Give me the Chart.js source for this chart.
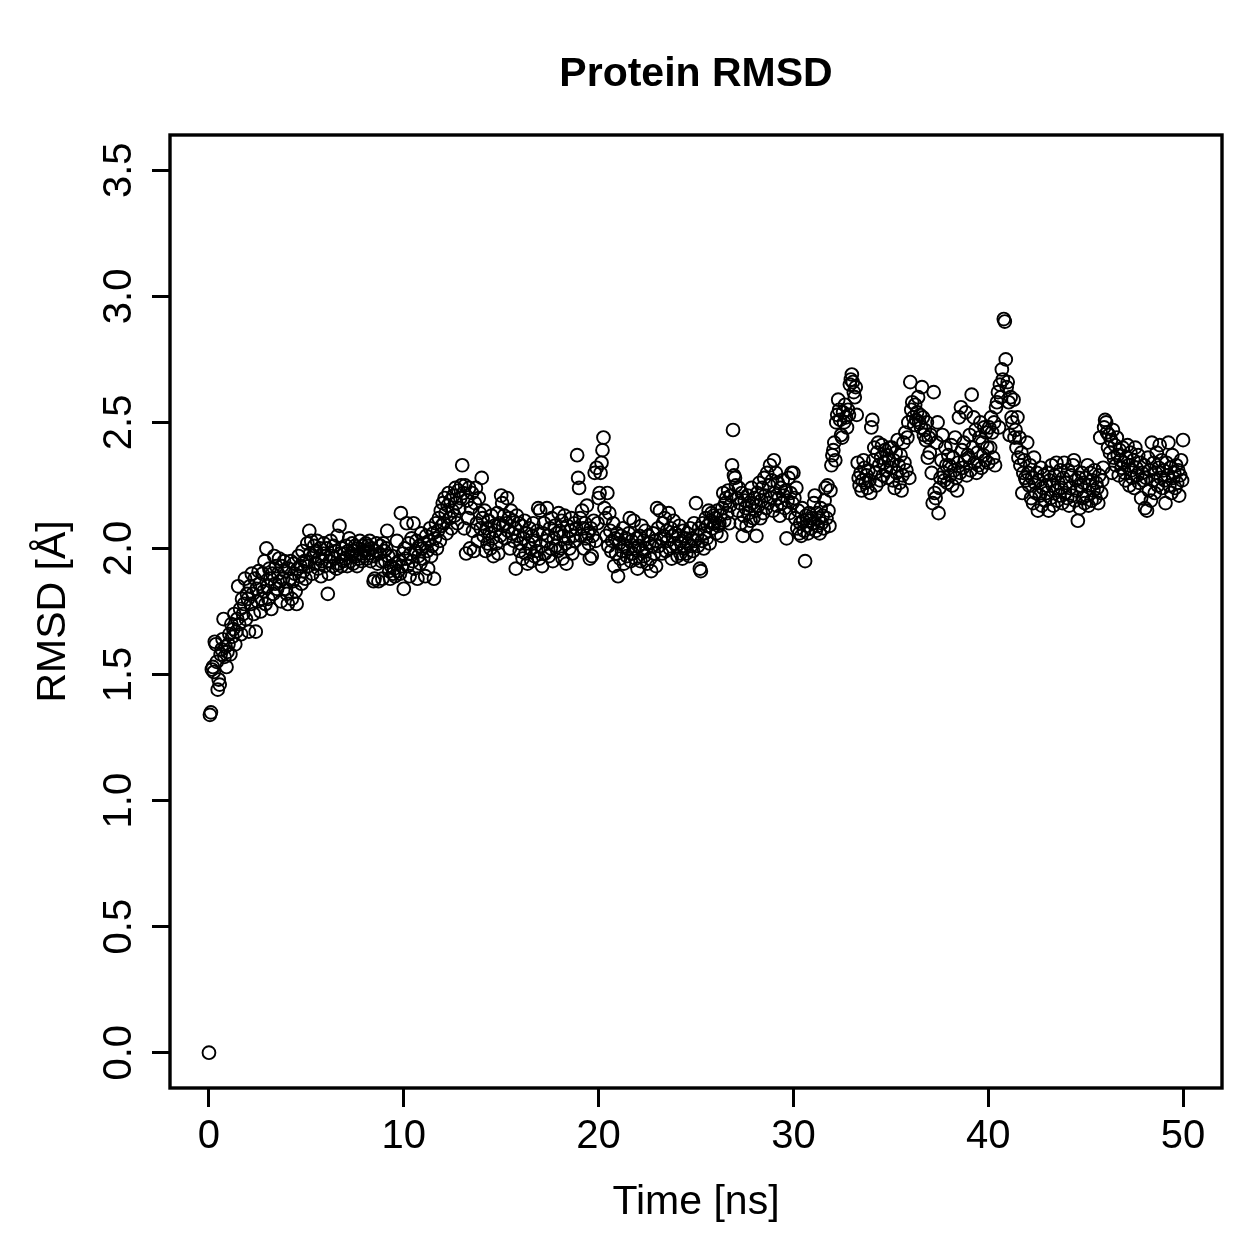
<!DOCTYPE html>
<html>
<head>
<meta charset="utf-8">
<script src="https://cdn.jsdelivr.net/npm/chart.js@4.4.1/dist/chart.umd.min.js"></script>
<style>
  html, body { margin: 0; padding: 0; background: #fff; }
  canvas { display: block; }
</style>
</head>
<body>
<canvas id="rmsd" width="1259" height="1259"></canvas>
<script>
// RMSD values (Angstrom), one frame every 0.05 ns, one row per ns
const frameStepNs = 0.05;
const rmsd = [
  0.00,1.34,1.35,1.52,1.53,1.51,1.63,1.62,1.55,1.44,1.48,1.46,1.58,1.60,1.64,1.72,1.57,1.61,1.53,1.59,
  1.62,1.66,1.58,1.70,1.65,1.68,1.74,1.62,1.67,1.72,1.85,1.70,1.76,1.66,1.80,1.74,1.78,1.88,1.72,1.82,
  1.80,1.67,1.85,1.78,1.90,1.82,1.74,1.88,1.67,1.84,1.79,1.91,1.86,1.75,1.80,1.90,1.83,1.95,1.78,2.00,
  1.85,1.80,1.92,1.88,1.76,1.90,1.82,1.97,1.86,1.93,1.84,1.90,1.96,1.87,1.79,1.93,1.88,1.95,1.91,1.84,
  1.82,1.78,1.92,1.88,1.95,1.80,1.87,1.94,1.90,1.83,1.78,1.92,1.97,1.89,1.93,1.86,1.99,1.91,1.95,1.88,
  1.95,2.02,1.93,2.07,1.98,2.03,1.90,1.97,2.01,1.94,1.99,2.03,1.92,1.96,2.00,1.89,1.95,1.98,2.02,1.93,
  1.97,2.00,1.82,1.90,1.95,2.03,1.97,1.93,2.01,1.96,1.99,1.92,2.05,1.94,2.09,1.98,1.93,2.00,1.95,1.98,
  1.96,2.01,1.93,1.99,2.04,1.95,1.98,2.02,1.94,1.99,2.01,1.97,1.93,2.00,1.96,2.03,1.98,1.95,2.01,1.97,
  1.99,2.02,1.96,2.01,1.98,2.03,1.95,2.00,1.97,1.87,1.88,1.99,2.02,1.94,1.87,1.98,2.01,1.95,1.88,2.02,
  1.99,1.95,2.00,2.07,1.97,1.91,1.88,1.93,1.97,1.90,1.92,1.89,1.94,2.03,1.91,1.95,1.90,2.14,1.93,1.98,
  1.84,2.00,1.96,2.10,1.93,2.02,1.89,1.98,2.04,1.95,2.10,1.92,1.99,2.03,1.88,1.97,2.01,1.94,2.06,2.00,
  1.96,2.02,1.89,2.05,1.99,1.92,2.03,2.08,1.97,2.01,2.06,1.88,2.04,2.10,2.00,2.07,2.12,2.03,2.15,2.09,
  2.18,2.10,2.20,2.14,2.06,2.17,2.22,2.12,2.19,2.08,2.15,2.21,2.13,2.24,2.18,2.10,2.23,2.16,2.20,2.25,
  2.33,2.22,2.08,2.25,1.98,2.19,2.12,2.24,2.00,2.16,2.22,2.07,1.99,2.18,2.24,2.10,2.03,2.20,2.14,2.08,
  2.28,2.12,2.05,2.15,1.99,2.08,2.02,2.11,2.06,2.00,2.13,2.04,1.97,2.09,2.07,2.02,2.14,1.98,2.10,2.05,
  2.21,2.18,2.09,2.13,2.04,2.10,2.20,2.07,2.12,2.00,2.15,2.06,2.11,2.03,2.08,1.92,2.13,2.05,2.10,1.99,
  2.02,2.09,1.96,2.04,2.11,1.98,2.06,1.94,2.02,2.08,2.00,1.95,2.05,2.10,1.97,2.03,1.99,2.07,2.16,1.96,
  2.15,2.01,1.93,2.06,2.10,1.98,2.03,2.16,2.05,1.97,2.08,2.00,2.12,1.95,2.04,2.09,2.01,2.06,1.99,2.14,
  2.07,2.00,2.11,1.96,2.05,2.13,2.02,1.94,2.09,2.04,2.00,2.07,2.12,1.98,2.05,2.10,2.03,2.08,2.37,2.28,
  2.24,2.12,2.05,2.15,2.08,2.00,2.10,2.04,2.17,2.06,2.02,1.96,2.08,1.97,2.05,2.11,2.30,2.03,2.32,2.10,
  2.20,2.22,2.30,2.34,2.39,2.44,2.16,2.12,2.05,2.22,2.01,2.14,2.07,1.99,2.03,2.10,1.93,2.04,1.98,2.06,
  1.89,2.02,1.96,2.05,1.99,2.08,1.94,2.01,2.04,1.97,2.00,2.06,2.12,1.95,2.03,1.98,2.11,2.00,1.96,2.04,
  1.92,2.01,2.05,1.95,2.09,1.99,2.03,1.97,2.07,2.00,1.94,2.05,2.02,1.96,1.91,2.01,2.06,1.98,2.03,1.93,
  2.16,2.08,2.01,2.15,2.04,1.98,2.10,2.05,2.12,1.99,2.07,2.03,2.14,2.00,2.08,1.96,2.05,2.11,2.02,2.06,
  2.01,1.97,2.05,2.09,1.98,2.03,1.96,2.07,2.00,2.04,1.98,2.06,2.02,1.97,2.08,2.01,2.04,1.99,2.10,2.03,
  2.18,2.05,2.01,2.08,1.92,1.91,2.03,2.10,2.00,2.06,2.12,2.04,2.09,2.15,2.02,2.11,2.14,2.08,2.13,2.10,
  2.12,2.06,2.15,2.09,2.10,2.13,2.05,2.16,2.22,2.11,2.18,2.20,2.14,2.23,2.10,2.17,2.21,2.33,2.47,2.29,
  2.28,2.25,2.20,2.15,2.24,2.18,2.10,2.22,2.05,2.13,2.19,2.16,2.09,2.21,2.14,2.17,2.11,2.24,2.18,2.12,
  2.20,2.15,2.05,2.22,2.17,2.26,2.12,2.19,2.24,2.14,2.28,2.21,2.16,2.30,2.18,2.25,2.33,2.20,2.27,2.15,
  2.35,2.22,2.30,2.17,2.26,2.20,2.13,2.24,2.18,2.27,2.21,2.16,2.23,2.04,2.19,2.28,2.14,2.22,2.30,2.18,
  2.30,2.20,2.12,2.24,2.08,2.15,2.06,2.10,2.05,2.16,2.11,2.07,1.95,2.13,2.09,2.06,2.14,2.11,2.08,2.12,
  2.10,2.18,2.21,2.07,2.14,2.09,2.12,2.06,2.16,2.10,2.13,2.08,2.19,2.24,2.12,2.25,2.15,2.09,2.23,2.33,
  2.37,2.39,2.42,2.35,2.50,2.53,2.59,2.55,2.51,2.45,2.44,2.54,2.50,2.57,2.52,2.48,2.55,2.53,2.65,2.67,
  2.69,2.66,2.62,2.60,2.64,2.53,2.34,2.28,2.25,2.30,2.23,2.27,2.35,2.32,2.26,2.29,2.24,2.31,2.27,2.22,
  2.48,2.51,2.35,2.40,2.30,2.25,2.38,2.42,2.33,2.27,2.36,2.41,2.29,2.34,2.39,2.31,2.37,2.28,2.35,2.40,
  2.32,2.40,2.27,2.35,2.24,2.38,2.30,2.43,2.33,2.26,2.37,2.23,2.29,2.42,2.34,2.46,2.31,2.44,2.50,2.28,
  2.66,2.55,2.58,2.52,2.49,2.57,2.51,2.54,2.60,2.50,2.53,2.48,2.64,2.52,2.45,2.47,2.43,2.50,2.36,2.44,
  2.38,2.45,2.30,2.18,2.62,2.22,2.20,2.42,2.50,2.14,2.24,2.28,2.35,2.45,2.30,2.27,2.40,2.33,2.26,2.37,
  2.33,2.29,2.41,2.25,2.36,2.31,2.44,2.28,2.23,2.34,2.52,2.30,2.56,2.39,2.32,2.42,2.35,2.54,2.29,2.37,
  2.36,2.45,2.31,2.61,2.40,2.52,2.34,2.47,2.30,2.38,2.33,2.44,2.50,2.32,2.42,2.37,2.48,2.35,2.46,2.40,
  2.34,2.48,2.40,2.52,2.46,2.36,2.50,2.33,2.56,2.58,2.62,2.48,2.65,2.60,2.71,2.67,2.91,2.90,2.75,2.64,
  2.66,2.58,2.45,2.60,2.52,2.50,2.59,2.44,2.47,2.40,2.52,2.36,2.44,2.33,2.38,2.22,2.30,2.35,2.28,2.27,
  2.42,2.30,2.25,2.33,2.20,2.28,2.18,2.36,2.26,2.22,2.30,2.15,2.27,2.21,2.32,2.17,2.24,2.29,2.19,2.25,
  2.22,2.30,2.15,2.27,2.20,2.33,2.25,2.17,2.29,2.23,2.34,2.19,2.26,2.21,2.31,2.24,2.18,2.28,2.34,2.22,
  2.26,2.20,2.31,2.17,2.24,2.29,2.21,2.33,2.35,2.19,2.27,2.23,2.11,2.28,2.16,2.25,2.30,2.20,2.26,2.18,
  2.28,2.21,2.33,2.17,2.25,2.30,2.19,2.27,2.23,2.31,2.20,2.26,2.24,2.18,2.29,2.44,2.22,2.27,2.32,2.48,
  2.51,2.50,2.46,2.40,2.45,2.38,2.43,2.30,2.47,2.36,2.41,2.33,2.44,2.37,2.29,2.39,2.35,2.32,2.40,2.34,
  2.30,2.27,2.36,2.41,2.33,2.25,2.38,2.31,2.28,2.35,2.24,2.40,2.32,2.29,2.37,2.26,2.34,2.20,2.30,2.27,
  2.33,2.16,2.28,2.15,2.36,2.23,2.31,2.19,2.42,2.27,2.34,2.22,2.30,2.38,2.25,2.32,2.41,2.28,2.35,2.24,
  2.31,2.27,2.18,2.34,2.29,2.42,2.25,2.32,2.22,2.37,2.28,2.30,2.24,2.33,2.26,2.31,2.21,2.29,2.35,2.27,
  2.43
];
const xTicks = [0, 10, 20, 30, 40, 50];
const yTicks = [0.0, 0.5, 1.0, 1.5, 2.0, 2.5, 3.0, 3.5];

const FONT = '"Liberation Sans", Arial, Helvetica, sans-serif';
const points = rmsd.map((v, i) => ({ x: i * frameStepNs, y: v }));

// R-style frame, title, axis titles and rotated y labels
const rDecor = {
  id: 'rDecor',
  afterDraw(chart) {
    const ctx = chart.ctx;
    const a = chart.chartArea;
    const ys = chart.scales.y;
    ctx.save();
    ctx.strokeStyle = '#000';
    ctx.lineWidth = 3.4;
    ctx.strokeRect(a.left, a.top, a.right - a.left, a.bottom - a.top);

    ctx.fillStyle = '#000';
    ctx.textAlign = 'center';
    ctx.textBaseline = 'alphabetic';
    ctx.font = 'bold 41px ' + FONT;
    ctx.fillText('Protein RMSD', (a.left + a.right) / 2, 86);

    ctx.font = '41px ' + FONT;
    ctx.fillText('Time [ns]', (a.left + a.right) / 2, 1214);

    ctx.font = '40px ' + FONT;
    // y tick labels, read bottom to top
    yTicks.forEach(t => {
      const py = ys.getPixelForValue(t);
      ctx.save();
      ctx.translate(131, py);
      ctx.rotate(-Math.PI / 2);
      ctx.fillText(t.toFixed(1), 0, 0);
      ctx.restore();
    });

    ctx.font = '41px ' + FONT;
    ctx.save();
    ctx.translate(65, (a.top + a.bottom) / 2);
    ctx.rotate(-Math.PI / 2);
    ctx.fillText('RMSD [\u00C5]', 0, 0);
    ctx.restore();
    ctx.restore();
  }
};

const ctx = document.getElementById('rmsd').getContext('2d');
new Chart(ctx, {
  type: 'scatter',
  data: {
    datasets: [{
      label: 'RMSD',
      data: points,
      pointStyle: 'circle',
      pointRadius: 6.4,
      pointBorderWidth: 1.9,
      pointBorderColor: '#000',
      pointBackgroundColor: 'rgba(0,0,0,0)',
      pointHoverRadius: 6.4
    }]
  },
  options: {
    responsive: false,
    animation: false,
    devicePixelRatio: 1,
    layout: { padding: { left: 0, right: 37, top: 135, bottom: 0 }, autoPadding: false },
    plugins: {
      legend: { display: false },
      title: { display: false },
      tooltip: { enabled: false }
    },
    scales: {
      x: {
        type: 'linear',
        min: -2,
        max: 52,
        afterBuildTicks: s => { s.ticks = xTicks.map(v => ({ value: v })); },
        afterFit: s => { s.height = 171; },
        border: { display: false },
        grid: { drawOnChartArea: false, drawTicks: true, tickLength: 19, color: '#000', lineWidth: 3 },
        ticks: { color: '#000', font: { family: FONT, size: 40 }, padding: 6, maxRotation: 0, autoSkip: false }
      },
      y: {
        type: 'linear',
        min: -0.14,
        max: 3.64,
        afterBuildTicks: s => { s.ticks = yTicks.map(v => ({ value: v })); },
        afterFit: s => { s.width = 170; },
        border: { display: false },
        grid: { drawOnChartArea: false, drawTicks: true, tickLength: 18, color: '#000', lineWidth: 3 },
        ticks: { display: false }
      }
    }
  },
  plugins: [rDecor]
});
</script>
</body>
</html>
